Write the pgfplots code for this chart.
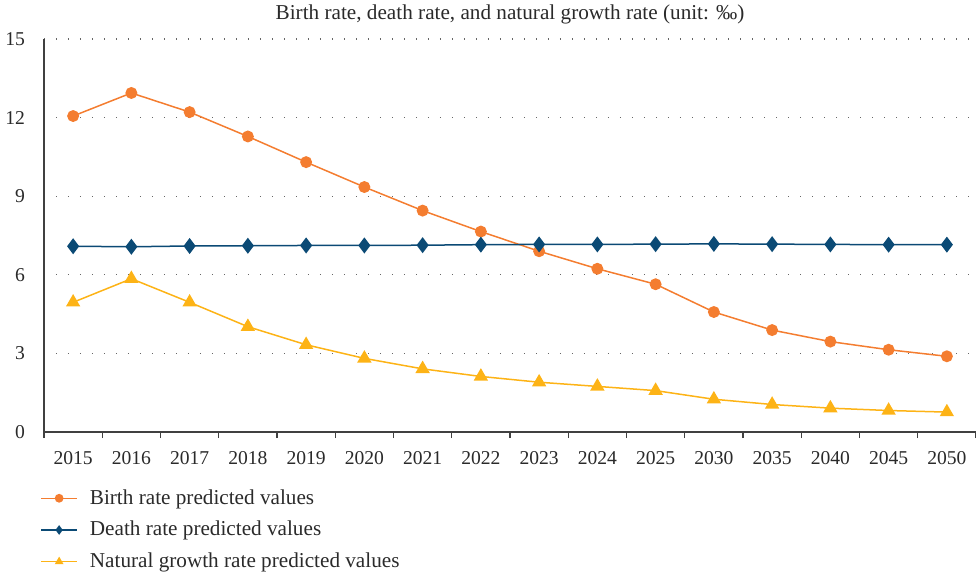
\documentclass[border=0pt]{standalone}
\usepackage{pgfplots}
\pgfplotsset{compat=1.18}
\usepackage{fontspec}
\setmainfont{Liberation Serif}
\definecolor{birthc}{HTML}{F47D30}
\definecolor{deathc}{HTML}{0B4A75}
\definecolor{growc}{HTML}{FDB316}
\definecolor{txt}{HTML}{2A2A2A}
\begin{document}
\begin{tikzpicture}[font=\fontsize{9.8}{12}\selectfont, text=txt]
\useasboundingbox (0,0) rectangle (488pt,287.5pt);
\begin{axis}[
  at={(22pt,71.5pt)}, anchor=south west,
  scale only axis, width=466pt, height=196.5pt,
  xmin=-0.5, xmax=15.5, ymin=0, ymax=15,
  axis lines=left, axis line style={-, black!75, line width=0.6pt},
  xtick={-0.5,0.5,...,15.5},
  xticklabels={},
  extra x ticks={0,...,15},
  extra x tick labels={2015,2016,2017,2018,2019,2020,2021,2022,2023,2024,2025,2030,2035,2040,2045,2050},
  extra x tick style={major tick length=0pt, xticklabel style={yshift=-6pt}},
  major tick length=3pt,
  tick align=outside,
  xtick style={black!75, line width=0.6pt},
  ytick={0,3,6,9,12,15},
  ytick style={draw=none},
  ymajorgrids, major grid style={black!60, line width=0.6pt, dash pattern=on 0.6pt off 5.4pt},
  yticklabel style={xshift=-3pt},
  /pgf/number format/assume math mode=true,
  title={Birth rate, death rate, and natural growth rate (unit: ‰)},
  title style={yshift=-2pt, font=\fontsize{10.6}{12}\selectfont},
  legend cell align=left,
  legend style={at={(0,0)}, anchor=north west, xshift=-5pt, yshift=-24.5pt, draw=none, fill=none, row sep=3pt, font=\fontsize{10.6}{12}\selectfont,
    nodes={inner xsep=6pt}},
  legend image code/.code={\draw[mark repeat=2, mark phase=2, mark size=1.8pt] plot coordinates {(0pt,0pt) (9pt,0pt) (18pt,0pt)};},
]
\addplot[birthc, line width=0.75pt, mark=*, mark size=2.6pt] coordinates {
(0,12.06) (1,12.94) (2,12.21) (3,11.28) (4,10.30) (5,9.35) (6,8.45) (7,7.65)
(8,6.90) (9,6.23) (10,5.64) (11,4.58) (12,3.89) (13,3.45) (14,3.14) (15,2.89)};
\addlegendentry{Birth rate predicted values}
\addplot[deathc, line width=0.75pt, mark=diamond*, mark size=3.4pt] coordinates {
(0,7.09) (1,7.07) (2,7.10) (3,7.11) (4,7.12) (5,7.12) (6,7.13) (7,7.15)
(8,7.16) (9,7.16) (10,7.17) (11,7.18) (12,7.17) (13,7.16) (14,7.15) (15,7.15)};
\addlegendentry{Death rate predicted values}
\addplot[growc, line width=0.75pt, mark=triangle*, mark size=3.4pt] coordinates {
(0,4.95) (1,5.85) (2,4.95) (3,4.02) (4,3.33) (5,2.81) (6,2.41) (7,2.12)
(8,1.90) (9,1.74) (10,1.58) (11,1.25) (12,1.05) (13,0.91) (14,0.82) (15,0.76)};
\addlegendentry{Natural growth rate predicted values}
\end{axis}
\end{tikzpicture}
\end{document}
